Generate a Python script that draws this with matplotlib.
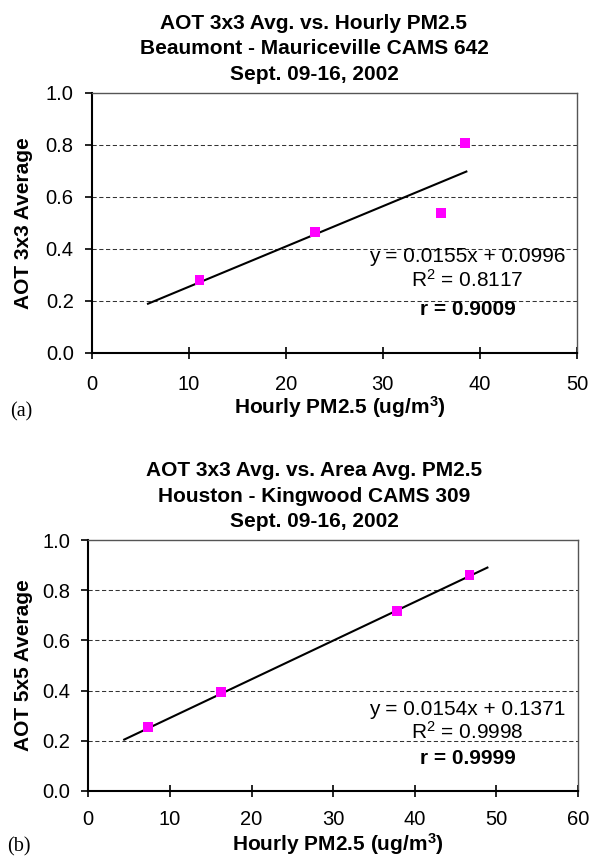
import matplotlib
matplotlib.use("Agg")
import matplotlib.pyplot as plt
import numpy as np

plt.rcParams['font.family'] = ['Liberation Sans', 'DejaVu Sans']
plt.rcParams['mathtext.fontset'] = 'custom'
plt.rcParams['mathtext.rm'] = 'Liberation Sans'
plt.rcParams['mathtext.bf'] = 'Liberation Sans:bold'
plt.rcParams['mathtext.default'] = 'regular'

# Panel (a): Beaumont - Mauriceville CAMS 642
pm_a = [11.1, 23.0, 36.0, 38.5]
aot_a = [0.280, 0.465, 0.538, 0.808]
slope_a, icpt_a = 0.0155, 0.0996
r2_a, r_a = 0.8117, 0.9009
fit_range_a = [5.8, 38.6]

# Panel (b): Houston - Kingwood CAMS 309
pm_b = [7.3, 16.3, 37.8, 46.7]
aot_b = [0.254, 0.393, 0.718, 0.861]
slope_b, icpt_b = 0.0154, 0.1371
r2_b, r_b = 0.9998, 0.9999
fit_range_b = [4.4, 48.9]

titles_a = ["AOT 3x3 Avg. vs. Hourly PM2.5",
            "Beaumont - Mauriceville CAMS 642",
            "Sept. 09-16, 2002"]
titles_b = ["AOT 3x3 Avg. vs. Area Avg. PM2.5",
            "Houston - Kingwood CAMS 309",
            "Sept. 09-16, 2002"]
ylabel_a = "AOT 3x3 Average"
ylabel_b = "AOT 5x5 Average"
xlabel = "Hourly PM2.5 (ug/m$^{3}$)"
yticks = [0.0, 0.2, 0.4, 0.6, 0.8, 1.0]
xticks_a = [0, 10, 20, 30, 40, 50]
xticks_b = [0, 10, 20, 30, 40, 50, 60]

W, H = 590, 857
fig = plt.figure(figsize=(W / 100, H / 100), dpi=100)


def fx(px):
    return px / W


def fy(py):
    return 1 - py / H


def panel(rect_px, pm, aot, slope, icpt, r2, r, fit_range, xticks,
          ylab, tick_pad_x, ann_x, ann_y):
    left, top, right, bottom = rect_px
    ax = fig.add_axes([fx(left), fy(bottom), (right - left) / W,
                       (bottom - top) / H])
    ax.set_xlim(xticks[0], xticks[-1])
    ax.set_ylim(0, 1.0)
    ax.set_xticks(xticks)
    ax.set_yticks(yticks)
    ax.set_yticklabels([f"{v:.1f}" for v in yticks])
    ax.tick_params(axis='y', direction='out', length=5, width=1.2,
                   labelsize=14.5, pad=8)
    ax.tick_params(axis='x', direction='inout', length=9, width=1.2,
                   labelsize=14.5, pad=tick_pad_x)
    for s in ('left', 'bottom'):
        ax.spines[s].set_linewidth(1.5)
        ax.spines[s].set_color('black')
    for s in ('top', 'right'):
        ax.spines[s].set_linewidth(1.0)
        ax.spines[s].set_color('#555555')
    for v in yticks[1:-1]:
        ax.axhline(v, color='#333333', lw=0.75, ls=(0, (4, 2.5)), zorder=1)

    xs = np.array(fit_range)
    ax.plot(xs, slope * xs + icpt, color='black', lw=1.5, zorder=2)
    ax.scatter(pm, aot, marker='s', s=50, color='#FF00FF',
               edgecolors='none', zorder=3)

    ax.set_ylabel(ylab, fontsize=15, fontweight='bold')
    ax.yaxis.set_label_coords((33 - left) / (right - left), 0.5)

    ax.text(fx(ann_x), fy(ann_y[0]), f"y = {slope:.4f}x + {icpt:.4f}",
            transform=fig.transFigure, ha='center', va='baseline',
            fontsize=15)
    ax.text(fx(ann_x), fy(ann_y[1]), f"R$^{{2}}$ = {r2:.4f}",
            transform=fig.transFigure, ha='center', va='baseline',
            fontsize=15)
    ax.text(fx(ann_x), fy(ann_y[2]), f"r = {r:.4f}",
            transform=fig.transFigure, ha='center', va='baseline',
            fontsize=15, fontweight='bold')
    return ax


ax_a = panel((91.7, 93, 577, 353), pm_a, aot_a, slope_a, icpt_a, r2_a, r_a,
             fit_range_a, xticks_a, ylabel_a, 11.5, 467.5, (262, 287, 315))
ax_b = panel((88.3, 540, 578, 791), pm_b, aot_b, slope_b, icpt_b, r2_b, r_b,
             fit_range_b, xticks_b, ylabel_b, 9, 467.5, (715, 739, 764))

# Titles, one line at a time
for i, line in enumerate(titles_a):
    fig.text(fx(314), fy(29 + 25.5 * i), line, ha='center', va='baseline',
             fontsize=15, fontweight='bold')
for i, line in enumerate(titles_b):
    fig.text(fx(314), fy(476 + 25.5 * i), line, ha='center', va='baseline',
             fontsize=15, fontweight='bold')

# x-axis labels
fig.text(fx(340), fy(414), xlabel, ha='center', va='baseline',
         fontsize=15, fontweight='bold')
fig.text(fx(338), fy(851), xlabel, ha='center', va='baseline',
         fontsize=15, fontweight='bold')

# Panel tags
fig.text(fx(10), fy(412), "(a)", ha='left', va='center', fontsize=14.5,
         family=['Liberation Serif', 'DejaVu Serif'])
fig.text(fx(7), fy(847), "(b)", ha='left', va='center', fontsize=14.5,
         family=['Liberation Serif', 'DejaVu Serif'])

fig.savefig("out.png", dpi=100, facecolor='white')
